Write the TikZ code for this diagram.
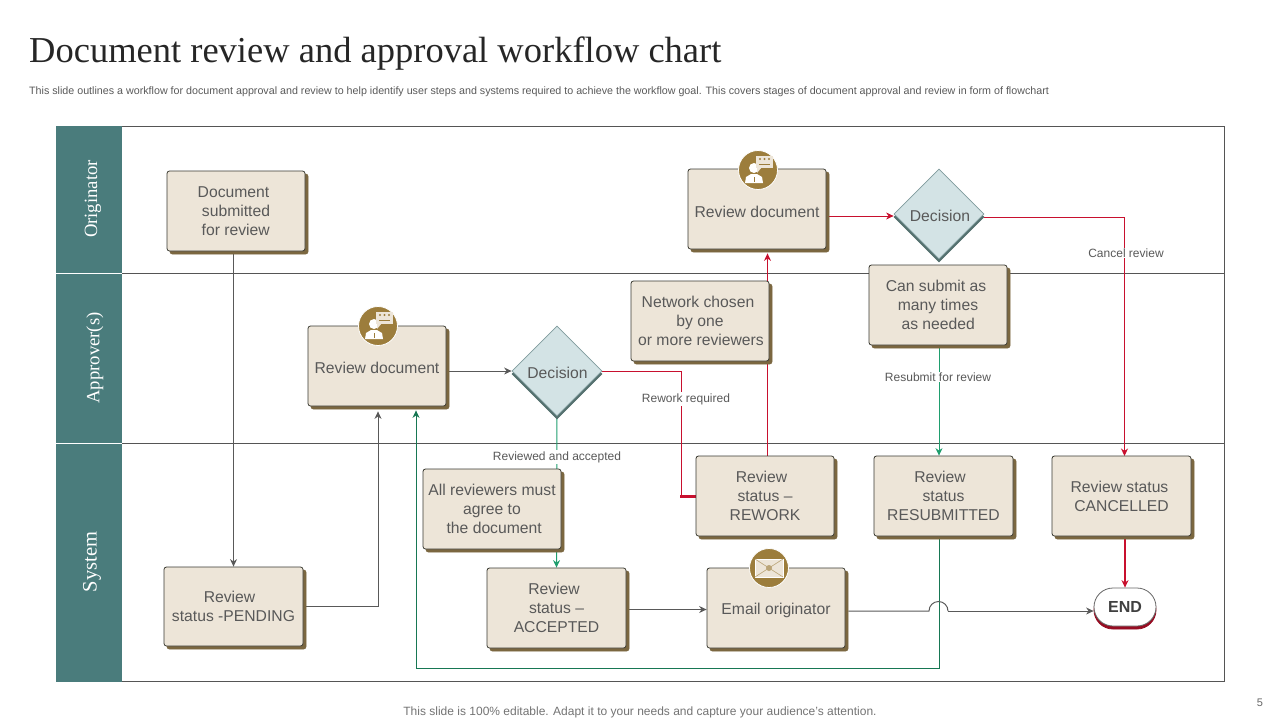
\documentclass[tikz,border=0pt]{standalone}
\usepackage{fontspec}
\setmainfont{Liberation Sans}
\newfontfamily\serifface{Liberation Serif}
\usetikzlibrary{shapes.geometric,shapes.misc,shadows,arrows.meta,calc}
\definecolor{boxfill}{HTML}{EDE5D8}
\definecolor{boxedge}{HTML}{3A3A32}
\definecolor{boxshade}{HTML}{7B6740}
\definecolor{teal}{HTML}{4A7C7C}
\definecolor{diafill}{HTML}{D3E3E5}
\definecolor{diaedge}{HTML}{7F9A9C}
\definecolor{diashade}{HTML}{55716F}
\definecolor{gold}{HTML}{9C7D3C}
\definecolor{txt}{HTML}{595959}
\definecolor{linkgray}{HTML}{595959}
\definecolor{linkred}{HTML}{C8102E}
\definecolor{linkgreen}{HTML}{1F9E6E}
\definecolor{framec}{HTML}{555555}
\pgfdeclarelayer{back}
\pgfdeclarelayer{links}
\pgfsetlayers{back,links,main}
\newcommand{\ts}[1]{\hspace*{#1pt}}
\tikzset{
  x=1pt,y=-1pt,
  tdown/.style={execute at begin node={\rule{0pt}{\dimexpr 11.4pt+2\dimexpr #1pt\relax\relax}}},
  box/.style={rectangle,rounded corners=2.5pt,draw=boxedge,line width=0.8pt,fill=boxfill,
    minimum width=138pt,minimum height=80pt,inner sep=0pt,align=center,text=txt,
    font=\fontsize{15.7}{19}\selectfont,
    copy shadow={shadow xshift=3pt,shadow yshift=-3pt,fill=boxshade,draw=boxshade}},
  dia/.style={diamond,aspect=1,draw=diaedge,line width=0.8pt,fill=diafill,
    minimum width=90pt,minimum height=90pt,inner sep=0pt,text=txt,
    font=\fontsize{15.7}{19}\selectfont,
    copy shadow={shadow xshift=0pt,shadow yshift=-3pt,fill=diashade,draw=diashade}},
  lane/.style={rotate=90,text=white,font=\serifface\fontsize{18.7}{22}\selectfont},
  caplabel/.style={fill=white,inner sep=1pt,text=txt,font=\fontsize{12}{14}\selectfont},
  icon/.style={circle,fill=gold,draw=white,line width=0.8pt,minimum size=39pt,inner sep=0pt},
  link/.style={line width=1pt,-{Stealth[length=7.5pt,width=7pt]}},
  plain/.style={line width=1pt},
}
\newcommand{\personicon}[1]{%
  \fill[white] ($(#1)+(-4,-2)$) circle (5pt);
  \fill[white] ($(#1)+(-13,13)$) -- ($(#1)+(-12,7)$) -- ($(#1)+(-7,4)$) -- ($(#1)+(-1,4)$) -- ($(#1)+(4,7)$) -- ($(#1)+(5,13)$) -- cycle;
  \fill[gold] ($(#1)+(-4.5,7)$) rectangle ($(#1)+(-3,12)$);
  \fill[boxfill] ($(#1)+(-2,-14)$) rectangle ($(#1)+(15,-2)$);
  \fill[boxfill] ($(#1)+(-1,-3)$) -- ($(#1)+(4,-3)$) -- ($(#1)+(-1,3)$) -- cycle;
  \foreach \dx in {2,6.5,11}{\fill[gold] ($(#1)+(\dx,-11)$) circle (1.2pt);}
  \draw[gold,line width=0.8pt] ($(#1)+(1,-6)$) -- ($(#1)+(12,-6)$);
}
\begin{document}
\begin{tikzpicture}
\useasboundingbox (0,0) rectangle (1280,720);
% titles
\node[anchor=west,inner sep=0pt,text=black!85,font=\serifface\fontsize{36.5}{42}\selectfont] (title) at (29,54) {Document review and approval workflow chart};
\node[anchor=west,inner sep=0pt,text=txt,font=\fontsize{10.7}{13}\selectfont] (sub) at (29,92) {This slide outlines a workflow for document approval and review to help identify user steps and systems required to achieve the workflow goal. This covers stages of document approval and review in form of flowchart};
\node[inner sep=0pt,text=black!55,font=\fontsize{12}{14}\selectfont] (foot) at (640,712) {This slide is 100\% editable. Adapt it to your needs and capture your audience's attention.};
\node[inner sep=0pt,text=black!60,font=\fontsize{11}{14}\selectfont] (page) at (1260,703) {5};
% swimlanes
\begin{pgfonlayer}{back}
\draw[framec,line width=0.9pt] (56,126.5) rectangle (1224.5,681.5);
\fill[teal] (56,126) rectangle (121.5,682);
\draw[framec,line width=0.9pt] (121,273.5) -- (1224,273.5);
\draw[framec,line width=0.9pt] (121,443.5) -- (1224,443.5);
\draw[white,line width=0.9pt] (56,273.5) -- (121.5,273.5) (56,443.5) -- (121.5,443.5);
\end{pgfonlayer}
\node[lane] (l1) at (93,199) {Originator};
\node[lane] (l2) at (95,358) {Approver(s)};
\node[lane,font=\serifface\fontsize{20.5}{22}\selectfont] (l3) at (92,562) {System};
% boxes
\node[box,tdown=3] (docsub) at (236,211) {Document\ts{5}\\submitted\ts{5}\\\ for review\ts{5}};
\node[box,tdown=3] (revtop) at (757,209) {Review document};
\node[dia,tdown=2] (dectop) at (939,214) {\hspace*{2pt}Decision};
\node[box,tdown=2] (cansub) at (938,305) {Can submit as\ts{4}\\many times\ts{4}\\\ as needed\ts{4}};
\node[box,tdown=2] (netw) at (700,321) {Network chosen\ts{4}\\by one\ts{5}\\\hspace*{2pt}or more reviewers};
\node[box,tdown=2] (revmid) at (377,366) {Review document};
\node[dia,tdown=2] (decmid) at (557,371) {\hspace*{1pt}Decision};
\node[box,tdown=3] (allrev) at (492,509) {All reviewers must\\agree to\\\ the document};
\node[box,tdown=1] (rework) at (765,496) {Review\ts{7}\\status --\\REWORK};
\node[box,tdown=1,minimum width=139pt] (resub) at (943.5,496) {Review\ts{7}\\status\ts{7}\\RESUBMITTED};
\node[box,tdown=1,minimum width=139pt] (cancel) at (1121.5,496) {Review status\ts{4}\\CANCELLED};
\node[box,tdown=1,minimum width=139pt,minimum height=79pt] (pend) at (233.5,606.5) {Review\ts{8}\\status -PENDING};
\node[box,tdown=1,minimum width=139pt] (accept) at (556.5,608) {Review\ts{5}\\status --\ts{6}\\ACCEPTED};
\node[box,tdown=2] (email) at (776,608) {Email originator};
\node[rounded rectangle,draw=black!60,line width=0.8pt,fill=white,minimum width=62pt,minimum height=38pt,inner sep=0pt,text=black!75,font=\bfseries\fontsize{16}{19}\selectfont,copy shadow={shadow xshift=0pt,shadow yshift=-3pt,fill=linkred!75!black,draw=linkred!75!black}] (endn) at (1125,607) {END};
% labels
\node[caplabel] (c1) at (1126,253) {Cancel review};
\node[caplabel] (c2) at (938,377) {Resubmit for review};
\node[caplabel] (c3) at (686,399) {Rework required};
\node[caplabel] (c4) at (557,457) {Reviewed and accepted};
% icons
\node[icon] (i1) at (758,170) {};
\node[icon] (i2) at (378,326) {};
\node[icon] (i3) at (769,568) {};
\personicon{i1}
\personicon{i2}
\draw[white,fill=boxfill,line width=0.6pt] ($(i3)+(-14,-9)$) rectangle ($(i3)+(14,9)$);
\draw[gold!70,line width=0.6pt] ($(i3)+(-14,-9)$) -- ($(i3)+(14,9)$) ($(i3)+(14,-9)$) -- ($(i3)+(-14,9)$);
\fill[gold!70] (i3) circle (3pt);
% connectors
\coordinate (ac1) at (929,611);
\coordinate (ac2) at (948,611);
\begin{pgfonlayer}{links}
\draw[link,linkgray] (docsub.south -| pend.north) -- (pend.north);
\draw[link,linkgray] (pend.east) -| ($(revmid.south)+(1,5)$);
\draw[link,linkgray] ($(revmid.east)+(3,5)$) -- (decmid.west);
\draw[plain,linkred] (decmid.east) -| (681.5,496);
\draw[line width=3pt,linkred] (680,496) -- (rework.west);
\draw[link,linkred] ($(rework.north)+(2.5,0)$) -- ($(revtop.south)+(10.5,4)$);
\draw[link,linkred] ($(revtop.east)+(3,7)$) -- ($(dectop.west)+(0,2)$);
\draw[link,linkred] ($(dectop.east)+(0,3)$) -| (1124.5,456);
\draw[link,linkred,line width=1.2pt] ($(cancel.south)+(3.5,3)$) -- (endn.north);
\draw[link,linkgreen] ($(cansub.south)+(1,3)$) -- ($(resub.north)+(-4.5,0)$);
\draw[link,linkgreen] (decmid.south) -- (accept.north);
\draw[link,linkgreen!75!black] ($(resub.south)+(-4.5,3)$) -- (939,668.5) -- (416,668.5) -- ($(revmid.south)+(39,4)$);
\draw[link,linkgray] ($(accept.east)+(3,1.5)$) -- ($(email.west)+(0,1.5)$);
\draw[plain,linkgray] ($(email.east)+(3,3)$) -- (ac1) arc[start angle=180,end angle=0,radius=9.5pt] -- (ac2);
\draw[link,linkgray] (ac2) -- ($(endn.west)+(0,4)$);
\end{pgfonlayer}
\end{tikzpicture}
\end{document}
